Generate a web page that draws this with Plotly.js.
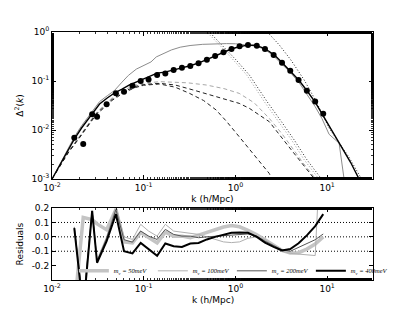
<!DOCTYPE html>
<html>
<head>
<meta charset="utf-8">
<script src="https://cdn.plot.ly/plotly-3.0.1.min.js"></script>
<style>html,body{margin:0;padding:0;background:#fff;}#chart{width:415px;height:312px;}</style>
</head>
<body>
<div id="chart"></div>
<script>
// ---------- top panel: measured points ----------
const kData = [0.0175, 0.0219, 0.0274, 0.031, 0.0394, 0.0497, 0.061, 0.0754, 0.0927, 0.113, 0.140, 0.172, 0.212, 0.261, 0.322, 0.396, 0.488, 0.601, 0.741, 0.906, 1.11, 1.37, 1.71, 2.10, 2.61, 3.22, 3.96, 4.88, 6.01, 7.41, 9.06];
const deltaData = [0.0070, 0.0052, 0.021, 0.0187, 0.0334, 0.056, 0.0605, 0.080, 0.100, 0.108, 0.132, 0.143, 0.168, 0.187, 0.202, 0.230, 0.272, 0.324, 0.385, 0.45, 0.51, 0.543, 0.525, 0.45, 0.34, 0.237, 0.162, 0.105, 0.0635, 0.038, 0.0216];

// total model (black solid)
const kTotal = [0.01, 0.0125, 0.015, 0.0175, 0.021, 0.026, 0.033, 0.04, 0.048, 0.058, 0.07, 0.085, 0.1, 0.12, 0.14, 0.17, 0.21, 0.26, 0.32, 0.4, 0.5, 0.6, 0.75, 0.9, 1.1, 1.35, 1.6, 1.9, 2.3, 2.7, 3.14, 3.9, 4.9, 6.0, 7.4, 9.0, 11, 14.1, 18, 22.3, 24];
const deltaTotal = [0.001, 0.0021, 0.0037, 0.0065, 0.011, 0.019, 0.034, 0.045, 0.057, 0.068, 0.083, 0.097, 0.11, 0.13, 0.145, 0.152, 0.165, 0.185, 0.205, 0.235, 0.28, 0.325, 0.39, 0.45, 0.5, 0.54, 0.535, 0.49, 0.41, 0.33, 0.25, 0.165, 0.105, 0.064, 0.037, 0.02, 0.0105, 0.0048, 0.0022, 0.001, 0.0008];

// alternative model (grey solid)
const kGrey = [0.01, 0.0125, 0.015, 0.0175, 0.021, 0.026, 0.033, 0.04, 0.048, 0.058, 0.068, 0.083, 0.1, 0.12, 0.137, 0.16, 0.2, 0.25, 0.32, 0.44, 0.6, 0.8, 1.0, 1.3, 1.6, 2.0, 2.5, 3.1, 3.9, 4.9, 6.0, 7.4, 8.8, 10.5, 13.5, 15.3, 15.8];
const deltaGrey = [0.001, 0.0022, 0.004, 0.0072, 0.0122, 0.021, 0.038, 0.05, 0.064, 0.095, 0.13, 0.175, 0.21, 0.245, 0.31, 0.36, 0.43, 0.49, 0.53, 0.56, 0.575, 0.58, 0.575, 0.545, 0.52, 0.46, 0.35, 0.235, 0.155, 0.095, 0.055, 0.03, 0.017, 0.0082, 0.0054, 0.001, 0.0003];

// two-halo like terms (dashed)
const kDashA = [0.01, 0.015, 0.02, 0.03, 0.045, 0.06, 0.08, 0.1, 0.15, 0.22, 0.3, 0.48, 0.75, 1.1, 1.6, 2.34, 3.2, 4.0, 5.5, 7.5, 8.5];
const deltaDashA = [0.001, 0.0036, 0.0075, 0.022, 0.045, 0.065, 0.082, 0.09, 0.097, 0.096, 0.092, 0.083, 0.07, 0.056, 0.036, 0.0173, 0.0085, 0.0048, 0.0021, 0.001, 0.0007];
const kDashB = [0.01, 0.015, 0.02, 0.03, 0.045, 0.06, 0.08, 0.1, 0.149, 0.22, 0.343, 0.6, 1.1, 1.42, 2.34, 4.0, 5.5, 7.22, 8.0];
const deltaDashB = [0.001, 0.0035, 0.0072, 0.021, 0.042, 0.06, 0.077, 0.085, 0.0897, 0.083, 0.066, 0.048, 0.035, 0.0277, 0.0148, 0.0041, 0.0019, 0.001, 0.0008];
const kDashC = [0.01, 0.015, 0.02, 0.03, 0.045, 0.06, 0.08, 0.1, 0.149, 0.22, 0.316, 0.45, 0.617, 0.8, 1.1, 1.6, 2.34, 2.5, 2.7];
const deltaDashC = [0.001, 0.0034, 0.007, 0.02, 0.04, 0.057, 0.073, 0.082, 0.087, 0.075, 0.056, 0.04, 0.0256, 0.015, 0.0073, 0.0031, 0.0013, 0.001, 0.0008];

// dotted terms
const kDotA = [0.48, 0.521, 0.75, 1.018, 1.42, 2.23, 3.2, 4.38, 6.0, 8.55, 9.5];
const deltaDotA = [1.17, 1.0, 0.5, 0.268, 0.132, 0.0372, 0.0145, 0.00625, 0.0025, 0.00105, 0.0008];
const kDotB = [0.45, 0.49, 0.7, 0.95, 1.33, 2.08, 3.0, 4.1, 5.6, 8.0, 8.9];
const deltaDotB = [1.17, 1.0, 0.5, 0.268, 0.132, 0.0372, 0.0145, 0.00625, 0.0025, 0.00105, 0.0008];
const kDotC = [2.0, 2.23, 3.01, 4.03, 5.62, 7.5, 10.5, 17.3, 23.4, 25];
const deltaDotC = [1.2, 1.0, 0.543, 0.268, 0.105, 0.04, 0.011, 0.0028, 0.00105, 0.0008];

// ---------- bottom panel: residuals ----------
const massLabels = ['<i>m<sub>ν</sub> = 50meV</i>', '<i>m<sub>ν</sub> = 100meV</i>', '<i>m<sub>ν</sub> = 200meV</i>', '<i>m<sub>ν</sub> = 400meV</i>'];
const res50 = [-0.5, 0.135, 0.12, 0.09, 0.05, 0.19, -0.035, -0.042, 0.03, -0.006, -0.042, 0.033, 0.005, 0.005, -0.006, 0.012, 0.03, 0.05, 0.068, 0.078, 0.07, 0.045, 0.015, -0.02, -0.06, -0.095, -0.112, -0.11, -0.085, -0.05, 0.0];
const res100 = [0.07, -0.45, 0.18, -0.16, 0.0, 0.215, 0.0, -0.018, 0.087, 0.04, 0.005, 0.087, 0.04, 0.033, 0.029, 0.017, 0.0, -0.02, -0.035, -0.04, -0.035, -0.01, 0.0, -0.02, -0.06, -0.1, -0.115, -0.12, -0.125, -0.13, 1.0];
const res200 = [0.065, -0.48, 0.18, -0.17, -0.01, 0.19, -0.02, -0.037, 0.04, 0.005, -0.018, 0.052, 0.017, 0.005, 0.005, -0.006, 0.0, 0.005, 0.01, 0.01, 0.015, 0.02, 0.005, -0.03, -0.06, -0.09, -0.1, -0.075, -0.05, -0.02, 0.02];
const res400 = [0.06, -0.51, 0.18, -0.18, -0.03, 0.158, -0.10, -0.115, -0.042, -0.085, -0.131, -0.046, -0.065, -0.07, -0.046, -0.042, -0.018, 0.0, 0.015, 0.029, 0.03, 0.028, 0.0, -0.04, -0.07, -0.095, -0.085, -0.045, 0.01, 0.075, 0.158];
const refLevels = [0.1, 0.0, -0.1];

const xTickVals = [0.01, 0.1, 1, 10];
const xTickText = ['10<sup>-2</sup>', '10<sup>-1</sup>', '10<sup>0</sup>', '10<sup>1</sup>'];
const yTickVals = [0.001, 0.01, 0.1, 1];
const yTickText = ['10<sup>-3</sup>', '10<sup>-2</sup>', '10<sup>-1</sup>', '10<sup>0</sup>'];
const rTickVals = [-0.2, -0.1, 0, 0.1, 0.2];
const rTickText = ['-0.2', '-0.1', '0.0', '0.1', '0.2'];
const xTitle = 'k (h/Mpc)';

function line(x, y, color, width, dash, xa, ya, name, legend) {
  return {x: x, y: y, type: 'scatter', mode: 'lines', xaxis: xa, yaxis: ya,
    line: {color: color, width: width, dash: dash || 'solid'}, name: name || '',
    showlegend: !!legend, hoverinfo: 'skip'};
}

const DASH = '4px,3px';
const DOT = '1px,2px';
const traces = [
  line(kDashA, deltaDashA, '#a8a8a8', 1, DASH, 'x', 'y'),
  line(kDashB, deltaDashB, '#222', 1, DASH, 'x', 'y'),
  line(kDashC, deltaDashC, '#222', 1, DASH, 'x', 'y'),
  line(kDotB, deltaDotB, '#999', 1, DOT, 'x', 'y'),
  line(kDotA, deltaDotA, '#222', 1, DOT, 'x', 'y'),
  line(kDotC, deltaDotC, '#222', 1, DOT, 'x', 'y'),
  line(kGrey, deltaGrey, '#8c8c8c', 1, 'solid', 'x', 'y'),
  line(kTotal, deltaTotal, '#000', 1.4, 'solid', 'x', 'y'),
  {x: kData, y: deltaData, type: 'scatter', mode: 'markers', xaxis: 'x', yaxis: 'y',
   marker: {color: '#000', size: 6}, showlegend: false, hoverinfo: 'skip'},
  line(kData, res50, '#c4c4c4', 3.5, 'solid', 'x2', 'y2', massLabels[0], true),
  line(kData, res100, '#b0b0b0', 1, 'solid', 'x2', 'y2', massLabels[1], true),
  line(kData, res200, '#555', 1, 'solid', 'x2', 'y2', massLabels[2], true),
  line(kData, res400, '#000', 2, 'solid', 'x2', 'y2', massLabels[3], true)
];

const axisCommon = {
  showline: true, linecolor: '#000', linewidth: 1, mirror: 'ticks',
  ticks: 'inside', ticklen: 4, tickcolor: '#000', tickwidth: 1,
  showgrid: false, zeroline: false,
  tickfont: {family: 'DejaVu Sans', size: 9, color: '#000'}
};
const minorLog = {ticks: 'inside', ticklen: 2, tickcolor: '#000', tickwidth: 0.8, showgrid: false};

const shapes = refLevels.map(v => ({type: 'line', xref: 'x2 domain', yref: 'y2', x0: 0, x1: 1, y0: v, y1: v,
  line: {color: '#000', width: 1, dash: DOT}, layer: 'below'}));

const layout = {
  width: 415, height: 312,
  margin: {l: 52, r: 42, t: 32, b: 32, pad: 0, autoexpand: false},
  paper_bgcolor: '#fff', plot_bgcolor: '#fff',
  font: {family: 'DejaVu Sans', size: 9, color: '#000'},
  showlegend: true,
  legend: {orientation: 'h', xref: 'container', yref: 'container', x: 0.178, y: 0.132,
    xanchor: 'left', yanchor: 'middle',
    bgcolor: 'rgba(0,0,0,0)', borderwidth: 0, itemwidth: 30,
    entrywidth: 34, entrywidthmode: 'pixels', tracegroupgap: 0,
    font: {family: 'Liberation Serif', size: 6.5, color: '#000'}},
  shapes: shapes,
  annotations: [{text: xTitle, xref: 'paper', yref: 'paper', x: 0.5, y: -0.081,
    xanchor: 'center', yanchor: 'middle', showarrow: false,
    font: {family: 'DejaVu Sans', size: 9, color: '#000'}}],
  xaxis: Object.assign({}, axisCommon, {type: 'log', range: [-2, 1.5], anchor: 'y', domain: [0, 1],
    tickvals: xTickVals, ticktext: xTickText, minor: minorLog,
    title: {text: xTitle, standoff: 3, font: {family: 'DejaVu Sans', size: 9}}}),
  yaxis: Object.assign({}, axisCommon, {type: 'log', range: [-3, 0], anchor: 'x', domain: [0.407, 1],
    tickvals: yTickVals, ticktext: yTickText, minor: minorLog,
    title: {text: 'Δ<sup>2</sup>(<i>k</i>)', standoff: 6, font: {family: 'DejaVu Sans', size: 9}}}),
  xaxis2: Object.assign({}, axisCommon, {type: 'log', range: [-2, 1.5], anchor: 'y2', domain: [0, 1],
    tickvals: xTickVals, ticktext: xTickText, minor: minorLog}),
  yaxis2: Object.assign({}, axisCommon, {range: [-0.3, 0.2], anchor: 'x2', domain: [0, 0.29],
    tickvals: rTickVals, ticktext: rTickText,
    title: {text: 'Residuals', standoff: 6, font: {family: 'DejaVu Sans', size: 9}}})
};

Plotly.newPlot('chart', traces, layout, {displayModeBar: false, staticPlot: true});
</script>
</body>
</html>
